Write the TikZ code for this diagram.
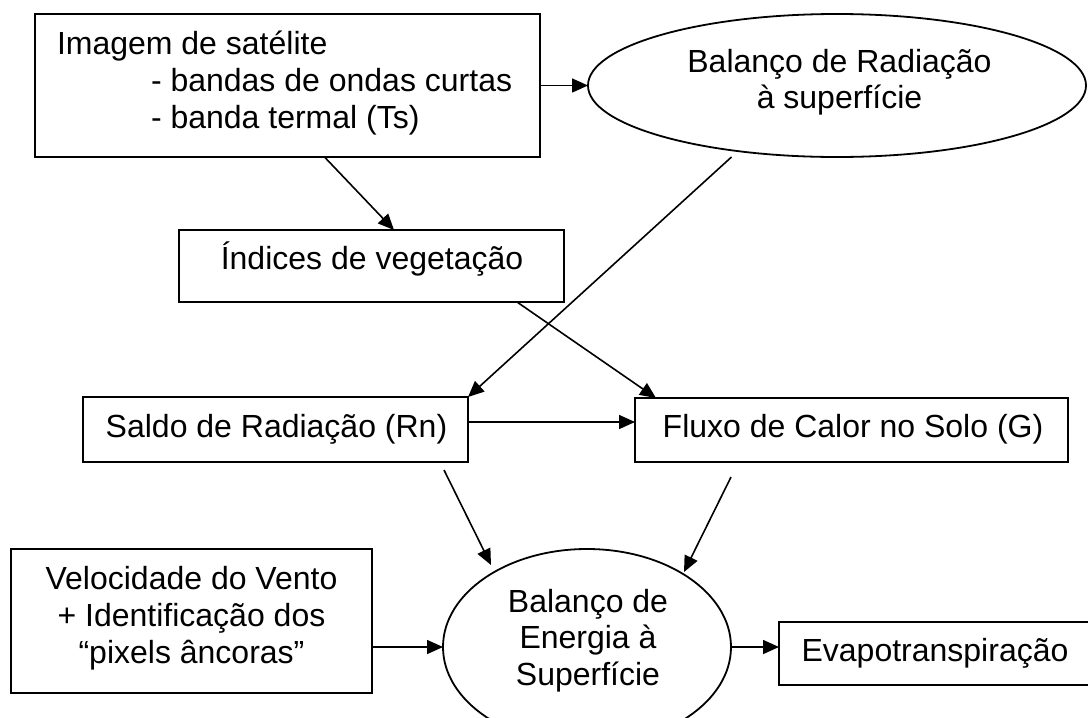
\documentclass[tikz,border=0pt]{standalone}
\usepackage{fontspec}
\setmainfont{Liberation Sans}
\usetikzlibrary{shapes.geometric,arrows.meta}
\tikzset{
  box/.style={draw, rectangle, line width=2pt, inner sep=0pt, outer sep=0pt},
  oval/.style={draw, ellipse, line width=1.8pt, inner sep=0pt, outer sep=0pt},
  txt/.style={inner sep=0pt, outer sep=0pt, font=\fontsize{32}{37}\selectfont},
  arr/.style={-{Triangle[length=16pt,width=14pt]}, line width=1.6pt},
}
\begin{document}
\begin{tikzpicture}[x=1pt,y=-1pt]
\useasboundingbox (0,0) rectangle (1088,718);
\clip (0,0) rectangle (1088,718);
% shapes
\node[box, minimum width=505pt, minimum height=143pt] (sat) at (287.5,85.5) {};
\node[oval, minimum width=498pt, minimum height=143pt] (ell1) at (837,85.5) {};
\node[box, minimum width=385pt, minimum height=72pt] (idx) at (371.5,266) {};
\node[box, minimum width=385pt, minimum height=65pt] (saldo) at (275.5,429.5) {};
\node[box, minimum width=433pt, minimum height=64pt] (fluxo) at (851.5,430) {};
\node[box, minimum width=361pt, minimum height=144pt] (vel) at (191.5,621) {};
\node[oval, minimum width=288pt, minimum height=196pt] (ell2) at (587,647) {};
\node[box, minimum width=315pt, minimum height=63pt] (evap) at (936.5,653.5) {};
% texts
\node[txt, anchor=base west] (t1a) at (57,54) {Imagem de satélite};
\node[txt, anchor=base west] (t1b) at (151,91) {- bandas de ondas curtas};
\node[txt, anchor=base west] (t1c) at (151,128) {- banda termal (Ts)};
\node[txt, anchor=base] (t2a) at (839.5,72) {Balanço de Radiação};
\node[txt, anchor=base] (t2b) at (839.5,108) {à superfície};
\node[txt, anchor=base] (t3) at (372,269) {Índices de vegetação};
\node[txt, anchor=base] (t4) at (276.5,437) {Saldo de Radiação (Rn)};
\node[txt, anchor=base] (t5) at (853,437) {Fluxo de Calor no Solo (G)};
\node[txt, anchor=base] (t6a) at (191.5,589) {Velocidade do Vento};
\node[txt, anchor=base] (t6b) at (191.5,626) {+ Identificação dos};
\node[txt, anchor=base] (t6c) at (191.5,663) {“pixels âncoras”};
\node[txt, anchor=base] (t7a) at (588,612) {Balanço de};
\node[txt, anchor=base] (t7b) at (588,648.5) {Energia à};
\node[txt, anchor=base] (t7c) at (588,685) {Superfície};
\node[txt, anchor=base] (t8) at (935,661) {Evapotranspiração};
% connectors
\draw[arr] (sat.east) -- (ell1.west);
\draw[arr] ([xshift=37pt]sat.south) -- ([xshift=22.5pt]idx.north);
\draw[arr] ([xshift=-105.5pt]ell1.south) -- (saldo.north east);
\draw[arr] ([xshift=-47pt]idx.south east) -- ([xshift=21pt]fluxo.north west);
\draw[arr] ([yshift=7.5pt]saldo.east) -- ([yshift=7.5pt]saldo.east -| fluxo.west);
\draw[arr] ([shift={(168.5pt,-8pt)}]saldo.south) -- ([shift={(-96pt,82pt)}]ell2.center);
\draw[arr] ([shift={(-120.5pt,-15pt)}]fluxo.south) -- ([shift={(97pt,75pt)}]ell2.center);
\draw[arr] (ell2.west -| vel.east) -- (ell2.west);
\draw[arr] (ell2.east) -- (ell2.east -| evap.west);
\end{tikzpicture}
\end{document}
